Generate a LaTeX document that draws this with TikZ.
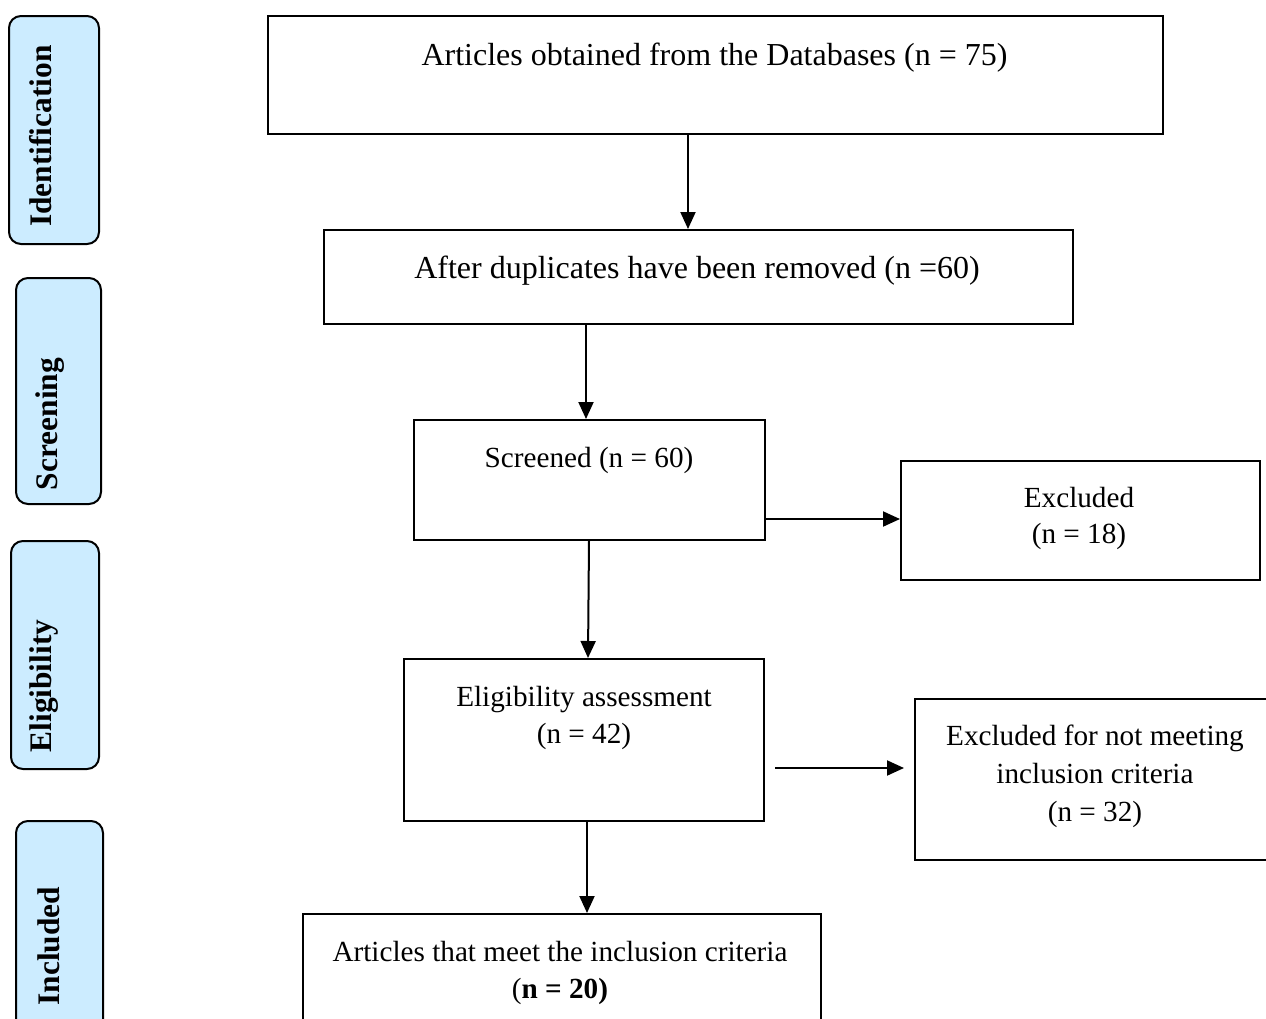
\documentclass[tikz,border=0pt]{standalone}
\usepackage{fontspec}
\setmainfont{Liberation Serif}
\usetikzlibrary{arrows.meta}
\definecolor{sidefill}{RGB}{204,236,255}
\tikzset{
  box/.style={draw=black, line width=1pt, fill=white, inner sep=0pt, anchor=north west},
  side/.style={draw=black, line width=1pt, fill=sidefill, rounded corners=6pt, inner sep=0pt, anchor=north west},
  sidetxt/.style={rotate=90, anchor=base, inner sep=0pt, font=\fontsize{15.7}{18}\selectfont\bfseries},
  bigtxt/.style={anchor=base, inner sep=0pt, font=\fontsize{16}{19}\selectfont},
  txt/.style={anchor=base, inner sep=0pt, font=\fontsize{14.6}{17}\selectfont},
  arr/.style={line width=1pt, -{Triangle[length=8.5pt,width=7.5pt]}},
}
\begin{document}
\begin{tikzpicture}[x=0.5pt,y=-0.5pt]
\useasboundingbox (0,0) rectangle (1266,1019);
\clip (0,0) rectangle (1266,1019);
% side labels (sizes in pt = pixels/2)
\node[side, minimum width=45pt, minimum height=114pt] (sId) at (8,15) {};
\node[sidetxt] (tId) at (52,136) {Identification};
\node[side, minimum width=42.5pt, minimum height=113pt] (sSc) at (15,277) {};
\node[sidetxt] (tSc) at (57,424) {Screening};
\node[side, minimum width=44pt, minimum height=114pt] (sEl) at (10,540) {};
\node[sidetxt] (tEl) at (52,686) {Eligibility};
\node[side, minimum width=43.5pt, minimum height=120pt] (sIn) at (15,820) {};
\node[sidetxt] (tIn) at (60,946) {Included};
% main boxes
\node[box, minimum width=447.5pt, minimum height=59pt] (b1) at (267,15) {};
\node[bigtxt] (t1) at (714.5,65) {Articles obtained from the Databases (n = 75)};
\node[box, minimum width=374.5pt, minimum height=47pt] (b2) at (323,229) {};
\node[bigtxt] (t2) at (697,278) {After duplicates have been removed (n =60)};
\node[box, minimum width=175.5pt, minimum height=60pt] (b3) at (413,419) {};
\node[txt] (t3) at (589,467) {Screened (n = 60)};
\node[box, minimum width=179.5pt, minimum height=59.5pt] (e1) at (900,460) {};
\node[txt] (te1a) at (1079,507) {Excluded};
\node[txt] (te1b) at (1079,543) {(n = 18)};
\node[box, minimum width=180pt, minimum height=81pt] (b4) at (403,658) {};
\node[txt] (t4a) at (584,706) {Eligibility assessment};
\node[txt] (t4b) at (584,743) {(n = 42)};
\node[box, minimum width=181pt, minimum height=80.5pt] (e2) at (914,698) {};
\node[txt] (te2a) at (1095,745) {Excluded for not meeting};
\node[txt] (te2b) at (1095,783) {inclusion criteria};
\node[txt] (te2c) at (1095,821) {(n = 32)};
\node[box, minimum width=259pt, minimum height=70pt] (b5) at (302,913) {};
\node[txt] (t5a) at (560,961) {Articles that meet the inclusion criteria};
\node[txt] (t5b) at (560,998) {(\textbf{n = 20)}};
% connector guides
\coordinate (x1) at (688,0);
\coordinate (x2) at (586,0);
\coordinate (y3) at (0,519);
\coordinate (x3) at (589,0);
\coordinate (x3b) at (588,0);
\coordinate (y4) at (0,768);
\coordinate (s4) at (775,0);
\coordinate (x5) at (587,0);
% connectors
\draw[arr] (b1.south -| x1) -- (b2.north -| x1);
\draw[arr] (b2.south -| x2) -- (b3.north -| x2);
\draw[arr] (b3.east |- y3) -- (e1.west |- y3);
\draw[arr] (b3.south -| x3) -- (b4.north -| x3b);
\draw[arr] (s4 |- y4) -- ([xshift=-5pt]e2.west |- y4);
\draw[arr] (b4.south -| x5) -- (b5.north -| x5);
\end{tikzpicture}
\end{document}
